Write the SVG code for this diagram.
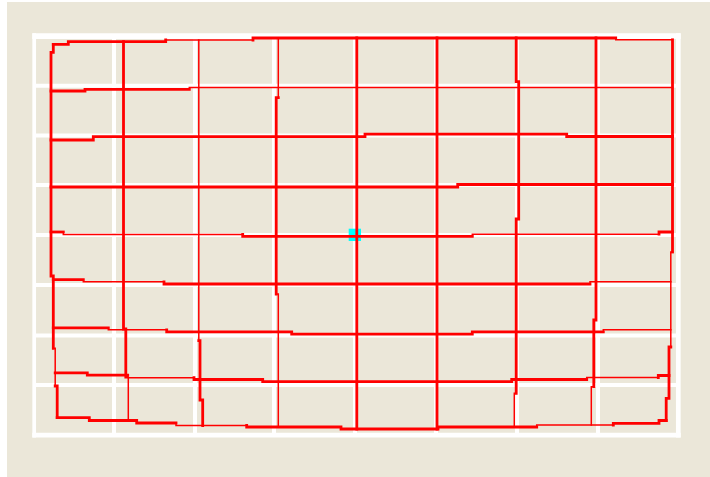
<svg xmlns="http://www.w3.org/2000/svg" width="710" height="477" viewBox="0 0 710 477">
<style>
.wg{stroke:#ffffff;fill:none}
.k{stroke:#ff0000;stroke-width:2.8;fill:none;stroke-linejoin:miter;stroke-linecap:square}
.n{stroke:#ff0000;stroke-width:1.5;fill:none;stroke-linejoin:miter;stroke-linecap:square}
</style>
<rect x="0" y="0" width="710" height="477" fill="#ffffff"/>
<rect x="7" y="2" width="703" height="475" fill="#ebe7d9"/>
<g id="white-grid">
<path class="wg" stroke-width="4" d="M114 36V435M195 36V435M274 36V435M355 36V435M436 36V435M517 36V435M598 36V435"/>
<path class="wg" stroke-width="4" d="M34 85.7H678M34 135.5H678M34 185H678M34 235H678M34 285H678M34 335.5H678M34 385H678"/>
<path class="wg" stroke-width="5.7" d="M32.3 36.2H680.7"/>
<path class="wg" stroke-width="4.8" d="M32.3 435.1H680.7"/>
<path class="wg" stroke-width="3.7" d="M34.2 33.3V437.5"/>
<path class="wg" stroke-width="4.7" d="M678.3 33.3V437.5"/>
</g>
<rect id="centre-mark" x="348.7" y="228.7" width="12.3" height="12.3" fill="#00ffff"/>
<g id="red-grid">
<g id="h0"><path class="k" d="M53.3 44.3H68.3V41.7H165.7V40"/><path class="n" d="M165.7 40H253"/><path class="k" d="M253 40V38H615.7"/><path class="n" d="M615.7 38V39.8H672.5"/></g>
<g id="h1"><path class="k" d="M51 91H85V89.3H189.3"/><path class="n" d="M189.3 89.3V87.5H672.5"/></g>
<g id="h2"><path class="k" d="M51 140H93.3V136.6H365V134.2H566.7V136.5H672.5"/></g>
<g id="h3"><path class="k" d="M51 187H457.7V184.5H672.5"/></g>
<g id="h4"><path class="k" d="M51 232H63.3"/><path class="n" d="M63.3 232V234.5H242.7"/><path class="k" d="M242.7 234.5V236.3H472.3"/><path class="n" d="M472.3 236.3V234.2H659"/><path class="k" d="M659 234.2V232H672.5"/></g>
<g id="h5"><path class="k" d="M53.3 279.7H83.3"/><path class="n" d="M83.3 279.7V281.8H164"/><path class="k" d="M164 281.8V284H590"/><path class="n" d="M590 284V281.7H670.8"/></g>
<g id="h6"><path class="k" d="M53.3 327.8H108.3"/><path class="n" d="M108.3 327.8V329.8H166.7"/><path class="k" d="M166.7 329.8V331.8H291.7V334.2H472.3V331.8H603.3"/><path class="n" d="M603.3 331.8V329.8H670.8"/></g>
<g id="h7"><path class="k" d="M55.2 372.8H87.3V375.2H127.7"/><path class="n" d="M127.7 375.2V377.7H194"/><path class="k" d="M194 377.7V379.5H262.7V381.6H511.7V379.5H586.7"/><path class="n" d="M586.7 379.5V377.5H658.3"/><path class="k" d="M658.3 377.5V375.5H669"/></g>
<g id="h8"><path class="k" d="M57.2 417.7H89.3V420.5H136.7V423H176"/><path class="n" d="M176 423V425.5H246.7"/><path class="k" d="M246.7 425.5V427H341V429H438V427H536.7"/><path class="n" d="M536.7 427V425H613.3"/><path class="k" d="M613.3 425V423.3H659V420.5H666.2"/></g>
<g id="v0"><path class="k" d="M53.3 44.3V52.3H51V276H53.3V348.3"/><path class="n" d="M53.3 348.3H55.2V386"/><path class="k" d="M55.2 386H57.2V417.7"/></g>
<g id="v1"><path class="k" d="M123.5 41.7V329H125.8V377"/><path class="n" d="M125.8 377H128.3V420.5"/></g>
<g id="v2"><path class="n" d="M198.8 40V340.7"/><path class="k" d="M198.8 340.7H200V400H202.7V425.5"/></g>
<g id="v3"><path class="n" d="M278.3 38V97.7"/><path class="k" d="M278.3 97.7H276.2V294"/><path class="n" d="M276.2 294H278.3V427"/></g>
<g id="v4"><path class="k" d="M356.8 38V429"/></g>
<g id="v5"><path class="k" d="M437 38V429"/></g>
<g id="v6"><path class="k" d="M516.2 38V81.7H518.7V219H516.2V393.3"/><path class="n" d="M516.2 393.3H514.3V427"/></g>
<g id="v7"><path class="k" d="M596 38V320H593.8V386.7"/><path class="n" d="M593.8 386.7H591.3V425"/></g>
<g id="v8"><path class="k" d="M672.5 39.8V252"/><path class="n" d="M672.5 252H670.8V347"/><path class="k" d="M670.8 347H669V398.3H666.2V420.5"/></g>
</g>
</svg>
